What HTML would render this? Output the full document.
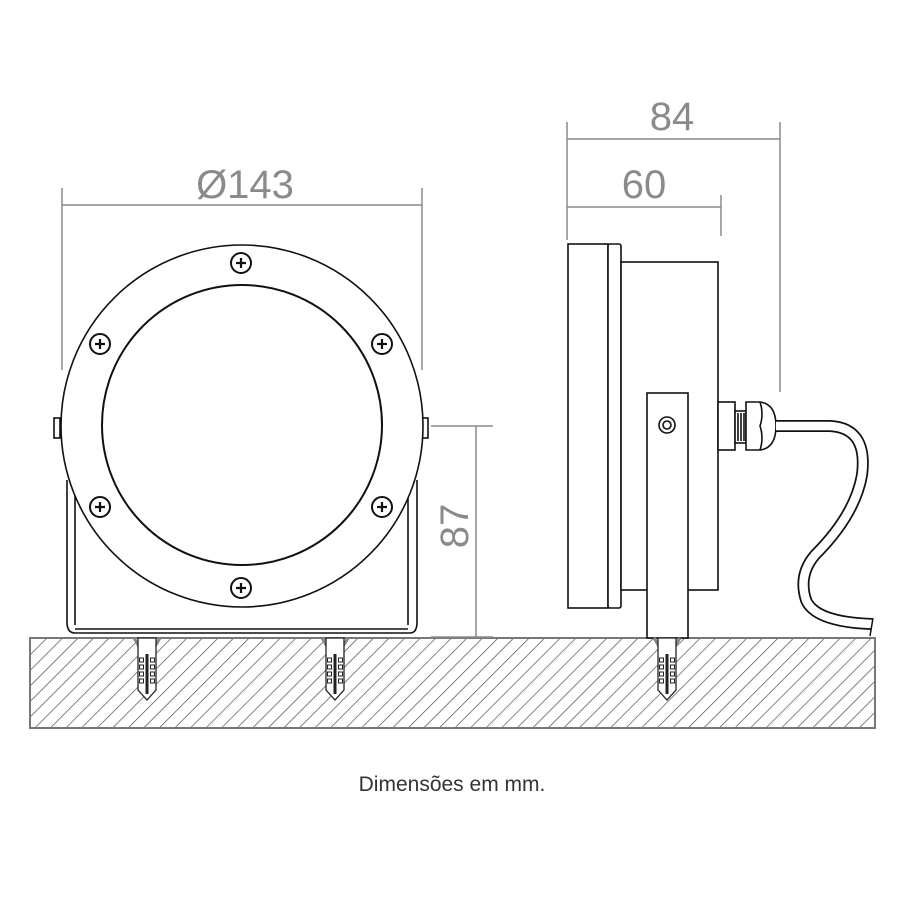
<!DOCTYPE html>
<html><head><meta charset="utf-8"><style>
html,body{margin:0;padding:0;background:#fff;}
svg{display:block;}
text{font-family:"Liberation Sans",sans-serif;fill:#8a8a8a;}
</style></head><body>
<svg width="900" height="900" viewBox="0 0 900 900" xmlns="http://www.w3.org/2000/svg">
<defs>
<pattern id="h" patternUnits="userSpaceOnUse" width="11" height="11" patternTransform="rotate(45)">
<rect width="11" height="11" fill="#fff"/>
<line x1="0" y1="0" x2="0" y2="11" stroke="#444" stroke-width="1.3"/>
</pattern>
<g id="anchor">
<path d="M-13,0 L-3,17 M13,0 L3,17" stroke="#888" stroke-width="3" fill="none"/>
<path d="M-9,0 L-9,52 L0,62 L9,52 L9,0 Z" fill="#fff" stroke="#222" stroke-width="1.3"/>
<rect x="-1.5" y="16" width="3" height="40" fill="#222"/>
<g fill="none" stroke="#222" stroke-width="1">
<rect x="-7.5" y="20" width="4" height="4"/><rect x="-7.5" y="27" width="4" height="4"/><rect x="-7.5" y="34" width="4" height="4"/><rect x="-7.5" y="41" width="4" height="4"/>
<rect x="3.5" y="20" width="4" height="4"/><rect x="3.5" y="27" width="4" height="4"/><rect x="3.5" y="34" width="4" height="4"/><rect x="3.5" y="41" width="4" height="4"/>
</g>
</g>
<g id="screw">
<circle r="10" fill="#fff" stroke="#111" stroke-width="2"/>
<path d="M-5,0 H5 M0,-5 V5" stroke="#111" stroke-width="2.2"/>
</g>
</defs>

<rect x="30" y="638" width="845" height="90" fill="url(#h)" stroke="#777" stroke-width="2"/>

<g stroke="#8a8a8a" stroke-width="1.5" fill="none">
<path d="M62,188 V370 M422,188 V370 M62,205 H422"/>
<path d="M431,426 H493 M431,637 H493 M476,426 V637"/>
<path d="M567,122 V240 M780,122 V392 M567,139 H780"/>
<path d="M721,195 V236 M567,207 H721"/>
</g>
<text x="245" y="198" font-size="40" text-anchor="middle">Ø143</text>
<text x="672" y="130" font-size="40" text-anchor="middle">84</text>
<text x="644" y="198" font-size="40" text-anchor="middle">60</text>
<text transform="translate(468,526) rotate(-90)" font-size="40" text-anchor="middle">87</text>

<g stroke="#111" stroke-width="1.6" fill="#fff">
<path d="M67,480 V622 Q67,633 75,633 L410,633 Q417,633 417,622 V480" fill="#fff"/>
<path d="M75,480 V625 M408,480 V625 M75,629 H408" fill="none"/>
<rect x="54" y="418" width="6" height="20"/>
<rect x="422" y="418" width="6" height="20"/>
<circle cx="242" cy="426" r="181"/>
<circle cx="242" cy="425" r="140" stroke-width="2"/>
</g>
<use href="#screw" x="241" y="263"/>
<use href="#screw" x="100" y="344"/>
<use href="#screw" x="382" y="344"/>
<use href="#screw" x="100" y="507"/>
<use href="#screw" x="382" y="507"/>
<use href="#screw" x="241" y="588"/>

<g stroke="#111" stroke-width="1.6" fill="#fff">
<rect x="568" y="244" width="40" height="364"/>
<rect x="608" y="244" width="13" height="364" rx="2"/>
<rect x="621" y="262" width="97" height="328"/>
<rect x="647" y="393" width="41" height="245"/>
<circle cx="667" cy="425" r="8"/>
<circle cx="667" cy="425" r="4"/>
<rect x="718" y="402" width="17" height="48"/>
<rect x="735" y="411" width="11" height="32"/>
<path d="M738,413 V441 M741,413 V441 M744,413 V441" fill="none"/>
<path d="M746,402 H760 Q776,404 776,426 Q776,448 760,450 H746 Z"/>
<path d="M760,402 Q764,414 760,426 Q764,438 760,450" fill="none"/>
</g>
<path d="M776,426 H830 Q868,428 862,475 Q855,515 815,555 Q798,575 806,600 Q815,622 872,624" fill="none" stroke="#111" stroke-width="12"/>
<path d="M776,426 H830 Q868,428 862,475 Q855,515 815,555 Q798,575 806,600 Q815,622 872,624" fill="none" stroke="#fff" stroke-width="8.5"/>
<line x1="873" y1="618" x2="870" y2="636" stroke="#111" stroke-width="1.5"/>

<use href="#anchor" x="147" y="638"/>
<use href="#anchor" x="335" y="638"/>
<use href="#anchor" x="667" y="638"/>

<text x="452" y="791" font-size="21" text-anchor="middle" style="fill:#333">Dimensões em mm.</text>
</svg>
</body></html>
